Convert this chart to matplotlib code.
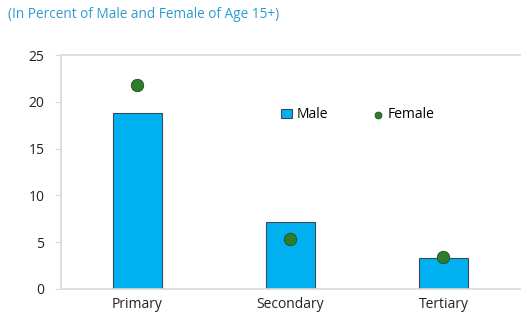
import matplotlib.pyplot as plt
import numpy as np

categories = ['Primary', 'Secondary', 'Tertiary']
male = [18.8, 7.2, 3.3]
female = [21.8, 5.3, 3.4]

plt.rcParams['font.family'] = ['Open Sans', 'DejaVu Sans']

fig = plt.figure(figsize=(5.21, 3.22), dpi=100)
ax = fig.add_axes([0.117, 0.1025, 0.881, 0.7265])

x = np.arange(len(categories))
bars = ax.bar(x, male, width=0.32, color='#00b0f0', edgecolor='#3a4a5a', linewidth=0.8, label='Male', zorder=2)
dots = ax.scatter(x, female, s=80, color='#2e7d2a', edgecolor='#1f4f1c', linewidth=0.6, label='Female', zorder=3)

ax.set_xlim(-0.5, 2.5)
ax.set_ylim(0, 25)
ax.set_yticks([0, 5, 10, 15, 20, 25])
ax.set_xticks(x)
ax.set_xticklabels(categories)

for side in ['top', 'left', 'bottom']:
    ax.spines[side].set_color('#d9d9d9')
    ax.spines[side].set_linewidth(1.2)
ax.spines['right'].set_visible(False)
ax.tick_params(axis='y', length=4, color='#d9d9d9', labelsize=10, labelcolor='#222222', pad=8)
ax.tick_params(axis='x', length=0, labelsize=10, labelcolor='#222222', pad=6)

ax.legend([bars, dots], ['Male', 'Female'], loc='upper left', bbox_to_anchor=(0.452, 0.83),
          ncol=2, frameon=False, fontsize=10, handlelength=0.8, handletextpad=0.3,
          columnspacing=3.2, markerscale=0.55)

fig.text(0.015, 0.955, '(In Percent of Male and Female of Age 15+)', color='#2f9ad0',
         fontsize=9.8, ha='left', va='center')

fig.savefig('out.png', dpi=100)
